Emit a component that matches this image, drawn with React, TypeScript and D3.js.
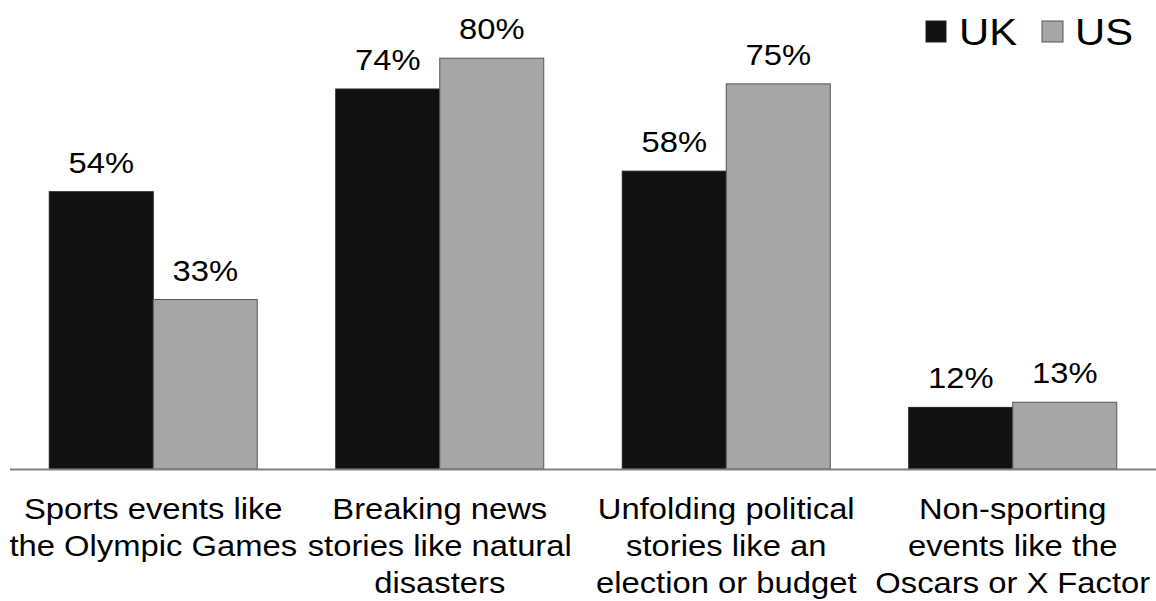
import React from "react";
import * as d3 from "d3";

const categories: string[][] = [
  ["Sports events like", "the Olympic Games"],
  ["Breaking news", "stories like natural", "disasters"],
  ["Unfolding political", "stories like an", "election or budget"],
  ["Non-sporting", "events like the", "Oscars or X Factor"],
];
const seriesNames = ["UK", "US"];
const ukValues = [54, 74, 58, 12];
const usValues = [33, 80, 75, 13];

const W = 1156;
const H = 601;
const FONT = "'Liberation Sans', Arial, sans-serif";
const SX = 1.13;

function SText(props: { x: number; y: number; size: number; anchor?: string; children: React.ReactNode }) {
  return (
    <text
      transform={`translate(${props.x},${props.y}) scale(${SX},1)`}
      textAnchor={props.anchor || "middle"}
      fontFamily={FONT}
      fontSize={props.size}
      fill="#000"
    >
      {props.children}
    </text>
  );
}

export default function App() {
  const left = 10;
  const right = 1156;
  const baseline = 469;
  const x0 = d3
    .scaleBand<number>()
    .domain(d3.range(categories.length))
    .range([left, right])
    .paddingInner(0.274)
    .paddingOuter(0.137);
  const x1 = d3.scaleBand<string>().domain(seriesNames).range([0, x0.bandwidth()]);
  const y = d3.scaleLinear().domain([0, 100]).range([baseline, baseline - 513.5]);
  const fills = ["#111111", "#a6a6a6"];
  const strokes = ["#222222", "#555555"];
  const data = [ukValues, usValues];

  return (
    <div style={{ position: "absolute", left: 0, top: 0 }}>
      <svg width={W} height={H} style={{ display: "block", background: "#fff" }}>
        {categories.map((_, i) =>
          seriesNames.map((s, j) => {
            const v = data[j][i];
            const bx = (x0(i) as number) + (x1(s) as number);
            return (
              <g key={`${i}-${j}`}>
                <rect
                  x={bx}
                  y={y(v)}
                  width={x1.bandwidth()}
                  height={baseline - y(v)}
                  fill={fills[j]}
                  stroke={strokes[j]}
                  strokeWidth={1}
                />
                <SText x={bx + x1.bandwidth() / 2} y={y(v) - 19} size={29}>
                  {v}%
                </SText>
              </g>
            );
          })
        )}
        <line x1={left} x2={right} y1={baseline + 0.5} y2={baseline + 0.5} stroke="#808080" strokeWidth={2} />
        {categories.map((lines, i) =>
          lines.map((l, k) => (
            <SText key={`${i}-${k}`} x={(x0(i) as number) + x0.bandwidth() / 2} y={519 + k * 37} size={29}>
              {l}
            </SText>
          ))
        )}
        <g>
          <rect x={926} y={21} width={20} height={21} fill={fills[0]} stroke={strokes[0]} />
          <SText x={959} y={45} size={37} anchor="start">
            {seriesNames[0]}
          </SText>
          <rect x={1042} y={21} width={21} height={21} fill={fills[1]} stroke={strokes[1]} />
          <SText x={1075} y={45} size={37} anchor="start">
            {seriesNames[1]}
          </SText>
        </g>
      </svg>
    </div>
  );
}
